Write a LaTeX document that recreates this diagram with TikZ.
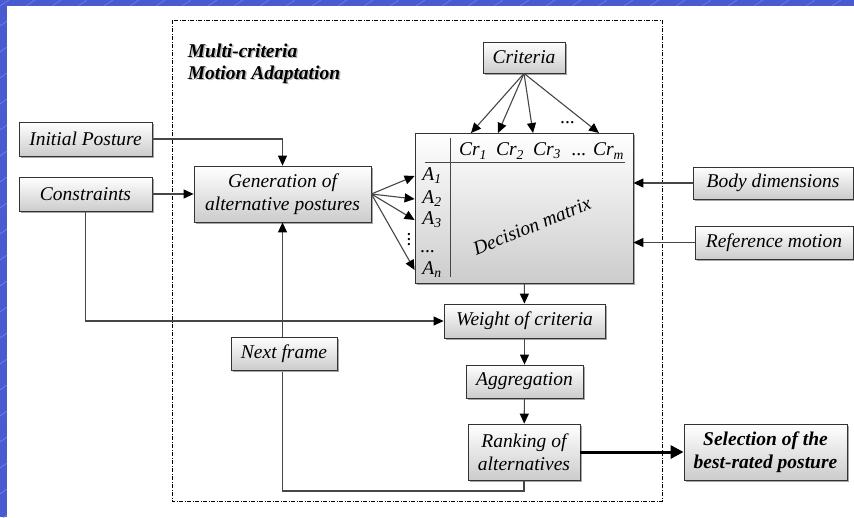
\documentclass[tikz,border=0pt]{standalone}
\usepackage{fontspec}
\setmainfont{Liberation Serif}
\usetikzlibrary{arrows.meta,shadows}
\definecolor{slideblue}{RGB}{74,90,208}
\definecolor{linegray}{RGB}{70,70,70}

\begin{document}
\begin{tikzpicture}[x=1pt, y=-1pt, thick,
	box/.style = {draw=black!80, line width=0.8pt, top color=white, bottom color=gray!40,
		drop shadow={shadow xshift=2pt, shadow yshift=-2pt, fill=gray!70, opacity=1},
		inner sep=0pt, align=center, font=\fontsize{19.5}{23}\selectfont\itshape},
	lbl/.style = {inner sep=0pt, font=\fontsize{19.5}{23}\selectfont\itshape},
	title/.style = {inner sep=0pt, anchor=base west, font=\fontsize{19.5}{23}\selectfont\bfseries\itshape},
	arr/.style = {draw=linegray, line width=1.1pt, -{Triangle[length=10pt, width=9pt, color=black]}}]

		\useasboundingbox (0,0) rectangle (854,517);
		\fill[slideblue] (0,0) rectangle (854,517);
		\foreach \i in {0,...,33} \draw[slideblue!65!white, line width=0.4pt] (\i*26,6) -- ++(9,-6);
		\foreach \i in {1,...,20} \draw[slideblue!65!white, line width=0.4pt] (0,\i*26) -- ++(7,-5);
		\fill[white] (7,6) rectangle (854,517);

		% dash-dot frame
		\draw[dash pattern=on 4pt off 1.5pt on 1pt off 1.5pt, line width=0.8pt] (172,20) rectangle (662,501);
		\node[title, text=gray!55] at (189,58.5) {Multi-criteria};
		\node[title, text=gray!55] at (189,80.5) {Motion Adaptation};
		\node[title] (t1) at (187.5,57) {Multi-criteria};
		\node[title] (t2) at (187.5,79) {Motion Adaptation};

		\node[box, minimum width=133pt, minimum height=34pt] (ip) at (85.5,139) {Initial Posture};
		\node[box, minimum width=133pt, minimum height=34pt] (con) at (85.5,194) {Constraints};
		\node[box, minimum width=177pt, minimum height=56pt] (gen) at (282.5,194) {Generation of\\alternative postures};
		\node[box, minimum width=82pt, minimum height=31pt] (crit) at (524,57.5) {Criteria};
		\node[box, minimum width=218pt, minimum height=150pt] (mat) at (524,208) {};
		\node[box, minimum width=160pt, minimum height=32pt] (body) at (773,183) {Body dimensions};
		\node[box, minimum width=158pt, minimum height=33pt] (ref) at (774,242.5) {Reference motion};
		\node[box, minimum width=161pt, minimum height=34pt] (wgt) at (524.5,321) {Weight of criteria};
		\node[box, minimum width=117pt, minimum height=33pt] (agg) at (524.5,381.5) {Aggregation};
		\node[box, minimum width=112pt, minimum height=56pt] (rank) at (524,452) {Ranking of\\alternatives};
		\node[box, minimum width=163pt, minimum height=56pt,
			font=\fontsize{19.5}{23}\selectfont\bfseries\itshape] (sel) at (765.5,452) {Selection of the\\best-rated posture};

		% decision matrix
		\draw[linegray, line width=1pt] (450,138) -- (450,277);
		\draw[linegray, line width=1pt] (425,162) -- (625,162);
		\node[lbl] (cr1) at (473,151) {Cr\textsubscript{1}};
		\node[lbl] (cr2) at (510,151) {Cr\textsubscript{2}};
		\node[lbl] (cr3) at (547,151) {Cr\textsubscript{3}};
		\node[lbl] (crm) at (598,151) {... Cr\textsubscript{m}};
		\node[lbl] (a1) at (432,176) {A\textsubscript{1}};
		\node[lbl] (a2) at (432,199) {A\textsubscript{2}};
		\node[lbl] (a3) at (432,220) {A\textsubscript{3}};
		\node[lbl] (adots) at (428,252) {...};
		\node[lbl] (an) at (432,270) {A\textsubscript{n}};
		\node[lbl, rotate=90] (vdots) at (409,239) {...};
		\node[lbl] (cdots) at (568,123) {...};
		\node[lbl, rotate=22] (dm) at (532,226) {Decision matrix};

		\foreach \x [count=\i] in {471,498,533,599} \coordinate (c\i) at (\x,133);
		\foreach \i in {1,...,4} \draw[arr] (crit.south) -- (c\i);
		\foreach \r in {a1,a2,a3,an} \draw[arr] (gen.east) -- (mat.west |- \r);

		\draw[arr] (ip) -| (gen);
		\draw[arr] (con) -- (gen);
		\draw[arr] (con) |- (wgt);
		\draw[arr] (body) -- (body -| mat.east);
		\draw[arr] (ref) -- (ref -| mat.east);
		\draw[arr] (mat) -- (wgt);
		\draw[arr] (wgt) -- (agg);
		\draw[arr] (agg) -- (rank);
		\draw[line width=3pt, -{Triangle[length=13pt, width=13pt]}] (rank) -- (sel);

		\coordinate (lp) at (524,491);
		\draw[arr] (rank) -- (lp) -| (gen);
		\node[box, minimum width=106pt, minimum height=33pt] (next) at (284,353.5) {Next frame};
	\end{tikzpicture}
\end{document}
